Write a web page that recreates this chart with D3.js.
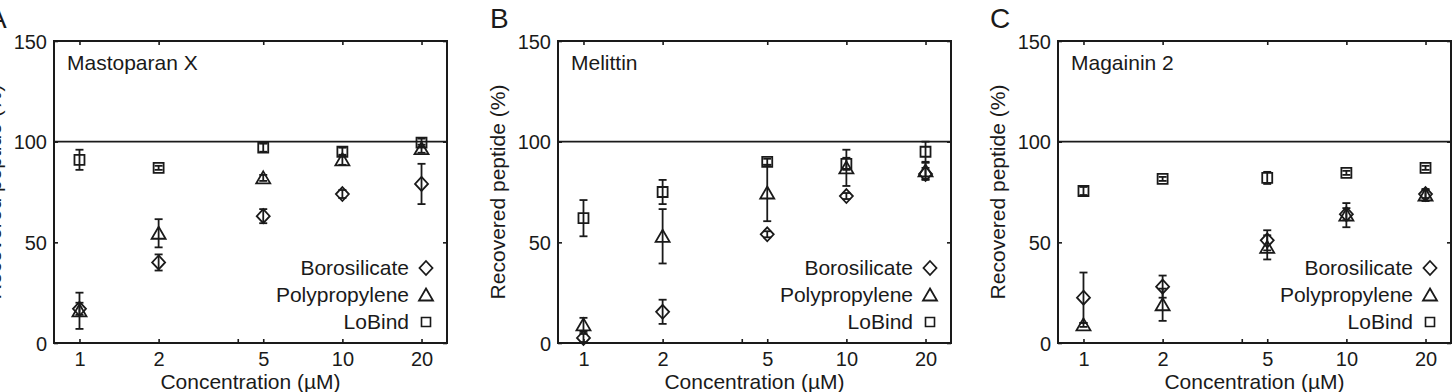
<!DOCTYPE html>
<html>
<head>
<meta charset="utf-8">
<script src="https://cdn.jsdelivr.net/npm/d3@7"></script>
<style>
  body { margin: 0; background: #fff; }
  text { font-family: "Liberation Sans", Arial, sans-serif; fill: #1a1a1a; }
</style>
</head>
<body>
<div id="chart"></div>
<script>
// ********** DATA **********
const concentrations = [1, 2, 5, 10, 20];
const xTicks = [1, 2, 4, 5, 10, 20];
const xTickLabels = ['1', '2', '', '5', '10', '20'];
const yTicks = [0, 50, 100, 150];
const materials = ['Borosilicate', 'Polypropylene', 'LoBind'];
const panelLetters = ['A', 'B', 'C'];
const peptides = ['Mastoparan X', 'Melittin', 'Magainin 2'];

// Mastoparan X
const mastoBoro = [17, 40, 63, 74, 79];
const mastoBoroErr = [3, 4, 3.5, 2, 10];
const mastoPP = [16, 54.5, 82, 91, 96.5];
const mastoPPErr = [9, 7, 1.5, 2.5, 2];
const mastoLo = [91, 87, 97, 95, 99.5];
const mastoLoErr = [5, 1, 2, 2, 2];

// Melittin
const meliBoro = [2.5, 15.5, 54, 73, 84];
const meliBoroErr = [2, 6, 1.5, 1.5, 3];
const meliPP = [9, 53, 74.5, 87, 85.5];
const meliPPErr = [3.5, 13.5, 14, 9, 4];
const meliLo = [62, 75, 90, 89, 95];
const meliLoErr = [9, 6, 1.5, 3, 5];

// Magainin 2
const magBoro = [22.5, 28, 51, 64, 74];
const magBoroErr = [12.5, 5.5, 5, 3, 2];
const magPP = [9, 19, 47.5, 63.5, 73.5];
const magPPErr = [1, 8, 6, 6, 3];
const magLo = [75.5, 81.5, 82, 84.5, 87];
const magLoErr = [2, 1, 3, 1, 1];

const panelSeries = [
	[[mastoBoro, mastoBoroErr], [mastoPP, mastoPPErr], [mastoLo, mastoLoErr]],
	[[meliBoro, meliBoroErr], [meliPP, meliPPErr], [meliLo, meliLoErr]],
	[[magBoro, magBoroErr], [magPP, magPPErr], [magLo, magLoErr]]
];

// ********** LAYOUT **********
const width = 1456, height = 392;
const panelLeft = [54, 558, 1058];
const plotW = 393, plotTop = 41, plotH = 302;
const ink = '#1a1a1a';

// Marker path builders (open markers)
const markerPath = (kind) => {
	if (kind === 0) return 'M0,-7L6.5,0L0,7L-6.5,0Z';           // diamond
	if (kind === 1) return 'M0,-6.5L7,5.5L-7,5.5Z';             // triangle
	return 'M-5,-5L5,-5L5,5L-5,5Z';                              // square
};

const svg = d3.select('#chart')
	.append('svg')
	.attr('width', width)
	.attr('height', height);

const renderPanel = (p) => {
	const left = panelLeft[p];
	const x = d3.scaleLog().domain([0.8, 25]).range([0, plotW]);
	const y = d3.scaleLinear().domain([0, 150]).range([plotH, 0]);

	const g = svg.append('g')
		.attr('transform', `translate(${left}, ${plotTop})`);

	// Axes with inward ticks
	const bottom = g.append('g')
		.attr('transform', `translate(0, ${plotH})`)
		.call(d3.axisBottom(x).tickValues(xTicks)
			.tickFormat((d, i) => xTickLabels[i])
			.tickSizeInner(-4).tickSizeOuter(0).tickPadding(9));
	const top = g.append('g')
		.call(d3.axisTop(x).tickValues(concentrations)
			.tickFormat('').tickSizeInner(-4).tickSizeOuter(0));
	const leftAx = g.append('g')
		.call(d3.axisLeft(y).tickValues(yTicks)
			.tickSizeInner(-4).tickSizeOuter(0).tickPadding(7));
	const rightAx = g.append('g')
		.attr('transform', `translate(${plotW}, 0)`)
		.call(d3.axisRight(y).tickValues(yTicks)
			.tickFormat('').tickSizeInner(-4).tickSizeOuter(0));

	[bottom, top, leftAx, rightAx].forEach(a => {
		a.select('.domain').remove();
		a.selectAll('line').attr('stroke', ink).attr('stroke-width', 1.6);
		a.selectAll('text')
			.attr('font-size', 20)
			.style('font-family', '"Liberation Sans", Arial, sans-serif')
			.attr('fill', ink);
	});
	bottom.selectAll('text').attr('dy', '14px');
	leftAx.selectAll('text').attr('dy', '0.36em');

	// Reference line at 100 %
	g.append('line')
		.attr('x1', 0).attr('x2', plotW)
		.attr('y1', y(100)).attr('y2', y(100))
		.attr('stroke', ink).attr('stroke-width', 1.6);

	// Frame
	g.append('rect')
		.attr('width', plotW).attr('height', plotH)
		.attr('fill', 'none').attr('stroke', ink).attr('stroke-width', 2);

	// Error bars and markers
	panelSeries[p].forEach(([means, errs], s) => {
		const pts = concentrations.map((c, i) => ({ c, v: means[i], e: errs[i] }));
		const eb = g.append('g').attr('class', `err-${s}`);
		eb.selectAll('line.stem')
			.data(pts).enter().append('line')
			.attr('class', 'stem')
			.attr('x1', d => x(d.c)).attr('x2', d => x(d.c))
			.attr('y1', d => y(d.v - d.e)).attr('y2', d => y(d.v + d.e))
			.attr('stroke', ink).attr('stroke-width', 1.8);
		['lo', 'hi'].forEach(k => {
			eb.selectAll(`line.cap-${k}`)
				.data(pts).enter().append('line')
				.attr('class', `cap-${k}`)
				.attr('x1', d => x(d.c) - 4).attr('x2', d => x(d.c) + 4)
				.attr('y1', d => y(k === 'lo' ? d.v - d.e : d.v + d.e))
				.attr('y2', d => y(k === 'lo' ? d.v - d.e : d.v + d.e))
				.attr('stroke', ink).attr('stroke-width', 1.8);
		});
		g.selectAll(`path.mk-${s}`)
			.data(pts).enter().append('path')
			.attr('class', `mk-${s}`)
			.attr('d', markerPath(s))
			.attr('transform', d => `translate(${x(d.c)}, ${y(d.v)})`)
			.attr('fill', 'none').attr('stroke', ink).attr('stroke-width', 1.8);
	});

	// Peptide name
	g.append('text')
		.attr('x', 13).attr('y', 29)
		.attr('font-size', 21)
		.text(peptides[p]);

	// Legend
	const legend = g.append('g').attr('class', 'legend');
	materials.forEach((m, i) => {
		const ly = 234 + i * 27;
		legend.append('text')
			.attr('x', plotW - 38).attr('y', ly)
			.attr('text-anchor', 'end')
			.attr('font-size', 21)
			.text(m);
		legend.append('path')
			.attr('d', markerPath(i))
			.attr('transform', `translate(${plotW - 21}, ${ly - 7}) ${i === 2 ? 'scale(0.9)' : ''}`)
			.attr('fill', 'none').attr('stroke', ink).attr('stroke-width', 1.8);
	});

	// Axis titles
	g.append('text')
		.attr('x', plotW / 2).attr('y', 348)
		.attr('text-anchor', 'middle')
		.attr('font-size', 21)
		.text('Concentration (µM)');
	g.append('text')
		.attr('transform', `translate(-53, ${plotH / 2}) rotate(-90)`)
		.attr('text-anchor', 'middle')
		.attr('font-size', 21)
		.text('Recovered peptide (%)');

	// Panel letter
	g.append('text')
		.attr('x', [-66, -68, -68][p]).attr('y', -13)
		.attr('font-size', 28)
		.text(panelLetters[p]);
};

[0, 1, 2].forEach(renderPanel);
</script>
</body>
</html>
